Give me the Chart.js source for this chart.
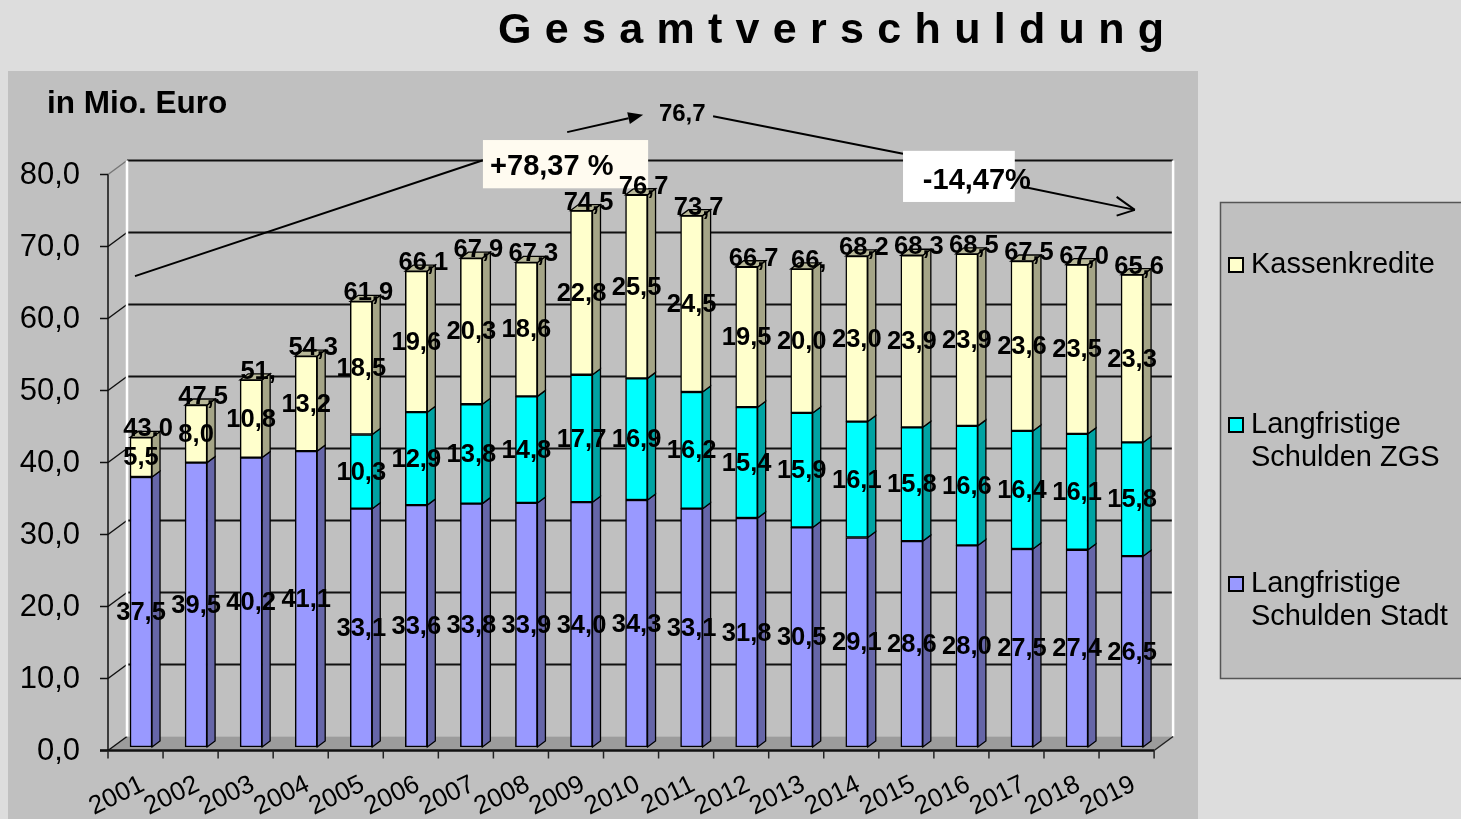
<!DOCTYPE html>
<html><head><meta charset="utf-8">
<script src="https://cdn.jsdelivr.net/npm/chart.js@4.4.0/dist/chart.umd.min.js"></script>
<style>html,body{margin:0;padding:0;background:#DDDDDD;overflow:hidden}canvas{display:block}</style>
</head><body>
<canvas id="c" width="1461" height="819"></canvas>
<script>
// ---- data ----
const years = ['2001','2002','2003','2004','2005','2006','2007','2008','2009','2010','2011','2012','2013','2014','2015','2016','2017','2018','2019'];
const stadt  = [37.5,39.5,40.2,41.1,33.1,33.6,33.8,33.9,34.0,34.3,33.1,31.8,30.5,29.1,28.6,28.0,27.5,27.4,26.5];
const zgs    = [0,0,0,0,10.3,12.9,13.8,14.8,17.7,16.9,16.2,15.4,15.9,16.1,15.8,16.6,16.4,16.1,15.8];
const kassen = [5.5,8.0,10.8,13.2,18.5,19.6,20.3,18.6,22.8,25.5,24.5,19.5,20.0,23.0,23.9,23.9,23.6,23.5,23.3];
const totalLabels = ['43.0','47,5','51,','54,3','61,9','66,1','67,9','67,3','74,5','76,7','73,7','66,7','66,','68,2','68,3','68,5','67,5','67,0','65,6'];
const yTicks = [0,10,20,30,40,50,60,70,80];
const seriesNames = ['Langfristige Schulden Stadt','Langfristige Schulden ZGS','Kassenkredite'];
const titleText = 'Gesamtverschuldung';
const unitText = 'in Mio. Euro';
const growthText = '+78,37 %';
const peakText = '76,7';
const declineText = '-14,47%';

const FONT = '"Liberation Sans", Arial, sans-serif';
const fmt = v => v.toFixed(1).replace('.', ',');
const FRONT = {dx: -5.5, dy: 3.5};   // axis plane relative to bar plane
const BACK  = {dx: 13.5, dy: -10.5}; // back wall relative to bar plane
const BD = {dx: 8, dy: -6};          // bar depth
const faceColors = ['#9999FF','#00FFFF','#FFFFCC'];
const sideColors = ['#6666A8','#00A3A3','#A5A587'];
const topColor = '#B8B898';

function font(w, s){ return (w ? 'bold ' : '') + s + 'px ' + FONT; }

const deco = {
  id: 'deco',
  beforeDatasetsDraw(chart) {
    const ctx = chart.ctx, xs = chart.scales.x, ys = chart.scales.y;
    ctx.save();
    // backgrounds
    ctx.fillStyle = '#DDDDDD'; ctx.fillRect(0,0,1461,819);
    ctx.fillStyle = '#C0C0C0'; ctx.fillRect(8,71,1190,748);
    // title, letter spaced
    ctx.font = font(true, 43); ctx.fillStyle = '#000'; ctx.textBaseline = 'middle';
    const chars = titleText.split('');
    const ws = chars.map(c => ctx.measureText(c).width);
    const tw = ws.reduce((a,b)=>a+b,0);
    const span = 666, gap = (span - tw) / (chars.length - 1);
    let tx = 498;
    ctx.textAlign = 'left';
    chars.forEach((c,i)=>{ ctx.fillText(c, tx, 31); tx += ws[i] + gap; });
    // unit label
    ctx.font = font(true, 31.5); ctx.fillText(unitText, 47, 104);
    // legend
    ctx.fillStyle = '#C0C0C0'; ctx.fillRect(1220.5,202.5,260,476);
    ctx.strokeStyle = '#555'; ctx.lineWidth = 1.5; ctx.strokeRect(1220.5,202.5,260,476);
    const legItems = [
      {c: faceColors[2], lines: ['Kassenkredite'], y: 265},
      {c: faceColors[1], lines: ['Langfristige','Schulden ZGS'], y: 425},
      {c: faceColors[0], lines: ['Langfristige','Schulden Stadt'], y: 584}
    ];
    ctx.font = font(false, 29);
    legItems.forEach(it => {
      ctx.fillStyle = it.c; ctx.fillRect(1229, it.y-7, 14, 14);
      ctx.strokeStyle = '#000'; ctx.lineWidth = 2; ctx.strokeRect(1229, it.y-7, 14, 14);
      ctx.fillStyle = '#000';
      it.lines.forEach((l,k)=> ctx.fillText(l, 1251, it.y + k*33));
    });

    const x0 = xs.getPixelForValue(-0.5), x1 = xs.getPixelForValue(years.length - 0.5);
    const fy = v => ys.getPixelForValue(v) + FRONT.dy;
    const by = v => ys.getPixelForValue(v) + BACK.dy;
    const fx0 = x0 + FRONT.dx, fx1 = x1 + FRONT.dx;
    const bx0 = x0 + BACK.dx, bx1 = x1 + BACK.dx;
    // floor
    ctx.fillStyle = '#9C9C9C';
    ctx.beginPath(); ctx.moveTo(fx0, fy(0)); ctx.lineTo(fx1, fy(0)); ctx.lineTo(bx1, by(0)); ctx.lineTo(bx0, by(0)); ctx.closePath(); ctx.fill();
    ctx.strokeStyle = '#B4B4B4'; ctx.lineWidth = 1;
    ctx.beginPath(); ctx.moveTo(bx0, by(0)); ctx.lineTo(bx1, by(0)); ctx.stroke();
    // back gridlines + connectors
    yTicks.forEach(v => {
      ctx.strokeStyle = '#111'; ctx.lineWidth = 2;
      if (v > 0) { ctx.beginPath(); ctx.moveTo(bx0, by(v)); ctx.lineTo(bx1, by(v)); ctx.stroke(); }
      ctx.strokeStyle = v === 80 ? '#777' : '#111'; ctx.lineWidth = 1.5;
      ctx.beginPath(); ctx.moveTo(fx0, fy(v)); ctx.lineTo(bx0, by(v)); ctx.stroke();
      ctx.strokeStyle = '#111';
      ctx.beginPath(); ctx.moveTo(fx0 - 8, fy(v)); ctx.lineTo(fx0, fy(v)); ctx.stroke();
    });
    // wall edges (white)
    ctx.strokeStyle = '#FFFFFF'; ctx.lineWidth = 2.5;
    ctx.beginPath(); ctx.moveTo(bx0, by(80)); ctx.lineTo(bx0, by(0)); ctx.stroke();
    ctx.beginPath(); ctx.moveTo(bx1, by(80)); ctx.lineTo(bx1, by(0)); ctx.stroke();
    // front axis
    ctx.strokeStyle = '#111'; ctx.lineWidth = 1.5;
    ctx.beginPath(); ctx.moveTo(fx0, fy(80)); ctx.lineTo(fx0, fy(0)); ctx.stroke();
    ctx.lineWidth = 2.5;
    ctx.beginPath(); ctx.moveTo(fx0 - 8, fy(0)); ctx.lineTo(fx1, fy(0)); ctx.stroke();
    ctx.lineWidth = 1.5; ctx.strokeStyle = '#222';
    ctx.beginPath(); ctx.moveTo(fx1, fy(0)); ctx.lineTo(bx1, by(0)); ctx.stroke();
    // x ticks
    for (let k = 0; k <= years.length; k++) {
      const tx2 = xs.getPixelForValue(k - 0.5) + FRONT.dx;
      ctx.beginPath(); ctx.moveTo(tx2, fy(0)); ctx.lineTo(tx2, fy(0) + 8); ctx.stroke();
    }
    // y tick labels
    ctx.fillStyle = '#000'; ctx.font = font(false, 31); ctx.textAlign = 'right'; ctx.textBaseline = 'middle';
    yTicks.forEach(v => ctx.fillText(fmt(v), 80, fy(v) + 1));
    // x tick labels (rotated)
    ctx.font = font(false, 26); ctx.textAlign = 'right'; ctx.textBaseline = 'top';
    years.forEach((y,i) => {
      const ax = xs.getPixelForValue(i) - 4, ay = fy(0) + 21;
      ctx.save(); ctx.translate(ax, ay); ctx.rotate(-26 * Math.PI / 180);
      ctx.fillText(y, 0, 0); ctx.restore();
    });
    ctx.restore();
  },
  afterDatasetsDraw(chart) {
    const ctx = chart.ctx, xs = chart.scales.x, ys = chart.scales.y;
    ctx.save();
    const n = chart.data.datasets.length;
    // side faces
    for (let d = 0; d < n; d++) {
      const meta = chart.getDatasetMeta(d);
      meta.data.forEach((bar, i) => {
        const v = chart.data.datasets[d].data[i];
        if (!v) return;
        const p = bar.getProps(['x','y','base','width'], true);
        const xr = p.x + p.width / 2;
        ctx.fillStyle = sideColors[d]; ctx.strokeStyle = '#000'; ctx.lineWidth = 1.3;
        ctx.beginPath(); ctx.moveTo(xr, p.y); ctx.lineTo(xr + BD.dx, p.y + BD.dy); ctx.lineTo(xr + BD.dx, p.base + BD.dy); ctx.lineTo(xr, p.base); ctx.closePath(); ctx.fill(); ctx.stroke();
      });
    }
    // top faces
    const topMeta = chart.getDatasetMeta(n - 1);
    topMeta.data.forEach(bar => {
      const p = bar.getProps(['x','y','base','width'], true);
      const xl = p.x - p.width / 2, xr = p.x + p.width / 2;
      ctx.fillStyle = topColor; ctx.strokeStyle = '#000'; ctx.lineWidth = 1.3;
      ctx.beginPath(); ctx.moveTo(xl, p.y); ctx.lineTo(xl + BD.dx, p.y + BD.dy); ctx.lineTo(xr + BD.dx, p.y + BD.dy); ctx.lineTo(xr, p.y); ctx.closePath(); ctx.fill(); ctx.stroke();
    });

    // annotations (anchored in data coordinates)
    const P = (i, v) => [xs.getPixelForValue(i), ys.getPixelForValue(v)];
    const line = (a, b, w) => { ctx.lineWidth = w || 2; ctx.strokeStyle = '#000'; ctx.beginPath(); ctx.moveTo(a[0], a[1]); ctx.lineTo(b[0], b[1]); ctx.stroke(); };
    ctx.textBaseline = 'middle';
    // rising line
    line(P(-0.11, 65.4), P(6.21, 81.5));
    // box +78,37 %
    let b1 = P(6.21, 84.3), b2 = P(9.21, 77.6);
    ctx.fillStyle = '#FFFBF0'; ctx.fillRect(b1[0], b1[1], b2[0]-b1[0], b2[1]-b1[1]);
    ctx.fillStyle = '#000'; ctx.font = font(true, 29); ctx.textAlign = 'left';
    let t = P(6.34, 80.5); ctx.fillText(growthText, t[0], t[1]);
    // filled arrow to peak
    const a0 = P(7.74, 85.4), a1 = P(9.12, 87.8);
    const ang = Math.atan2(a1[1]-a0[1], a1[0]-a0[0]);
    const hb = [a1[0] - 15*Math.cos(ang), a1[1] - 15*Math.sin(ang)];
    line(a0, hb);
    ctx.beginPath(); ctx.moveTo(a1[0], a1[1]);
    ctx.lineTo(hb[0] + 6*Math.sin(ang), hb[1] - 6*Math.cos(ang));
    ctx.lineTo(hb[0] - 6*Math.sin(ang), hb[1] + 6*Math.cos(ang));
    ctx.closePath(); ctx.fill();
    // peak value
    ctx.font = font(true, 24); ctx.textAlign = 'center';
    t = P(9.83, 87.8); ctx.fillText(peakText, t[0], t[1]);
    // falling line to box
    line(P(10.39, 87.6), P(13.84, 82.4));
    b1 = P(13.84, 82.8); b2 = P(15.87, 75.7);
    ctx.fillStyle = '#FFFFFF'; ctx.fillRect(b1[0], b1[1], b2[0]-b1[0], b2[1]-b1[1]);
    ctx.fillStyle = '#000'; ctx.font = font(true, 29); ctx.textAlign = 'left';
    t = P(14.2, 78.6); ctx.fillText(declineText, t[0], t[1]);
    // open arrow down
    const c0 = P(16.02, 77.8), c1 = P(18.05, 74.6);
    line(c0, c1);
    line(P(17.72, 76.4), c1); line(c1, P(17.72, 73.8));

    // segment labels
    ctx.fillStyle = '#000'; ctx.font = font(true, 25.5); ctx.textAlign = 'center'; ctx.textBaseline = 'middle';
    for (let d = 0; d < n; d++) {
      const meta = chart.getDatasetMeta(d);
      meta.data.forEach((bar, i) => {
        const v = chart.data.datasets[d].data[i];
        if (!v) return;
        const p = bar.getProps(['x','y','base'], true);
        ctx.fillText(fmt(v), p.x, (p.y + p.base) / 2 + 1);
      });
    }
    // total labels
    topMeta.data.forEach((bar, i) => {
      const p = bar.getProps(['x','y'], true);
      ctx.fillText(totalLabels[i], p.x + 7, p.y - 8);
    });
    ctx.restore();
  }
};

const mk = (k, arr) => ({
  label: seriesNames[k], data: arr,
  backgroundColor: faceColors[k], borderColor: '#000', borderWidth: 1.5,
  borderSkipped: false, barThickness: 22
});

new Chart(document.getElementById('c'), {
  type: 'bar',
  data: { labels: years, datasets: [mk(0, stadt), mk(1, zgs), mk(2, kassen)] },
  options: {
    responsive: false, animation: false, events: [],
    layout: { padding: { left: 113.5, right: 301.4, top: 171, bottom: 72 } },
    plugins: { legend: { display: false }, title: { display: false }, tooltip: { enabled: false } },
    scales: {
      x: { stacked: true, display: false, offset: true },
      y: { stacked: true, display: false, min: 0, max: 80 }
    }
  },
  plugins: [deco]
});
</script>
</body></html>
